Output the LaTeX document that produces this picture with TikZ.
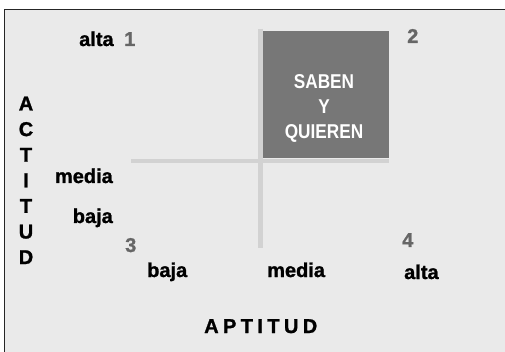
\documentclass[tikz,border=0pt]{standalone}
\usepackage{fontspec}
\setmainfont{Liberation Sans}
\newfontfamily\heavyfont[FakeBold=1.2]{Liberation Sans Bold}
\newfontfamily\condfont[FakeStretch=0.86]{Liberation Sans Bold}
\definecolor{bgc}{HTML}{EAEAEA}
\definecolor{boxc}{HTML}{777777}
\definecolor{linec}{HTML}{D2D2D2}
\definecolor{numc}{HTML}{666666}
\begin{document}
\begin{tikzpicture}[x=1pt,y=-1pt,
  lbl/.style={inner sep=0pt,font=\fontsize{20}{24}\selectfont\heavyfont},
  num/.style={lbl,text=numc},
  boxtxt/.style={inner sep=0pt,text=white,font=\fontsize{20}{25}\selectfont\condfont,anchor=base},
  axis/.style={line width=#1,draw=linec}]
\useasboundingbox (0,0) rectangle (505,352);
\clip (0,0) rectangle (505,352);
\fill[white] (0,0) rectangle (505,352);
\filldraw[fill=bgc,draw=black!85,line width=1pt] (4.5,9.5) rectangle (530,380);
% axes
\coordinate (vtop) at (260.5,29);
\coordinate (vbot) at (260.5,248);
\coordinate (hl) at (131,161);
\coordinate (hr) at (389,161);
\draw[axis=5pt] (vtop) -- (vbot);
\draw[axis=4pt] (hl) -- (hr);
% box
\node[fill=boxc,minimum width=126pt,minimum height=127pt,inner sep=0pt,anchor=north west] (box) at (263,31) {};
\node[boxtxt] (sab) at (324,89) {SABEN};
\node[boxtxt] (yy) at (324,114) {Y};
\node[boxtxt] (qui) at (324,139) {QUIEREN};
% numbers
\node[lbl,anchor=base west] (altaL) at (79,46) {alta};
\node[num,anchor=base west] (n1) at (124,46) {1};
\node[num,anchor=base west] (n2) at (407,43) {2};
\node[num,anchor=base west] (n3) at (125,252) {3};
\node[num,anchor=base west] (n4) at (402,247) {4};
% left labels
\node[lbl,anchor=base east] (mediaL) at (113,183) {media};
\node[lbl,anchor=base east] (bajaL) at (113,223) {baja};
% bottom labels
\node[lbl,anchor=base west] (bajaB) at (147,277) {baja};
\node[lbl,anchor=base west] (mediaB) at (267,277) {media};
\node[lbl,anchor=base west] (altaB) at (404,279) {alta};
% axis titles
\node[lbl,anchor=base west] (apt) at (204,333) {A\kern4.4pt P\kern4.4pt T\kern4.4pt I\kern4.4pt T\kern4.4pt U\kern4.4pt D};
\node[lbl,anchor=north,align=center,font=\fontsize{20}{25.6}\selectfont\heavyfont] (act) at (26,96.5) {A\\C\\T\\I\\T\\U\\D};
\end{tikzpicture}
\end{document}
